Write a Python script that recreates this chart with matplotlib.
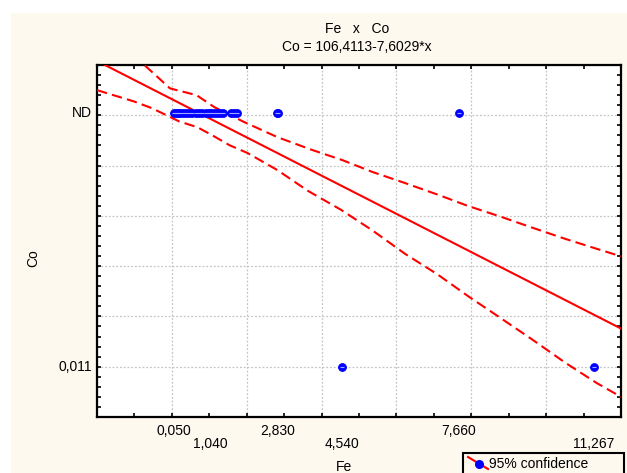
import matplotlib
matplotlib.use("Agg")
import matplotlib.pyplot as plt
from matplotlib.ticker import MultipleLocator, NullFormatter
from matplotlib.patches import Rectangle
from matplotlib.lines import Line2D
import numpy as np

plt.rcParams["font.family"] = ["Liberation Sans", "DejaVu Sans"]
plt.rcParams["font.size"] = 10

# --- data ---------------------------------------------------------------------

# fitted line, as printed in the subtitle
INTERCEPT = 106.4113
SLOPE = -7.6029

# Co is a text column; these are the codes its labels sit at
co_labels = ["ND", "0,011"]
co_codes = [101.0, 0.011]

# Fe values that get a text label under the x axis
fe_labels = ["0,050", "1,040", "2,830", "4,540", "7,660", "11,267"]
fe_values = [0.050, 1.040, 2.830, 4.540, 7.660, 11.267]

# samples with Co = ND
nd_fe = [0.05, 0.10, 0.16, 0.22, 0.30, 0.38, 0.45, 0.55, 0.64, 0.72, 0.80,
         0.90, 0.98, 1.04, 1.12, 1.20, 1.28, 1.36, 1.58, 1.66, 1.74,
         2.80, 2.83, 7.66]
# samples with Co = 0,011
low_fe = [4.54, 11.267]

# 95% confidence band
upper_x = [-0.72, -0.05, 0.66, 1.14, 1.54, 1.89, 2.82, 3.75, 4.55, 5.37,
           6.22, 7.13, 7.90, 8.80, 9.65, 10.50, 11.35, 12.0]
upper_y = [119.8, 110.7, 108.0, 103.2, 100.3, 97.6, 91.3, 86.2, 82.2, 77.4,
           73.1, 68.3, 64.0, 59.6, 55.2, 50.9, 46.9, 43.9]
lower_x = [-2.0, -1.01, -0.53, 0.19, 0.69, 1.12, 1.54, 2.02, 2.82, 3.64,
           4.52, 5.37, 6.22, 7.10, 7.93, 8.72, 9.63, 10.50, 11.33, 12.0]
lower_y = [110.0, 105.5, 102.8, 97.6, 95.2, 91.7, 88.1, 85.0, 78.2, 69.9,
           62.4, 54.1, 45.0, 36.7, 27.9, 20.0, 10.8, 1.7, -6.3, -12.0]

# --- style --------------------------------------------------------------------

CREAM = "#fdf9ef"
RED = "#ff0000"
BLUE = "#0000ff"
W, H = 627, 473


def fx(px):
    return px / W


def fy(py):
    return 1 - py / H


fig = plt.figure(figsize=(W / 100, H / 100), dpi=100)
fig.patch.set_facecolor("white")
fig.patches.append(Rectangle((fx(11), 0), 1 - fx(11), fy(13), transform=fig.transFigure,
                             facecolor=CREAM, edgecolor="none", zorder=-10))

ax = fig.add_axes([fx(97), fy(417), fx(621) - fx(97), fy(65) - fy(417)])
ax.set_facecolor("white")
ax.set_xlim(-2, 12)
ax.set_ylim(-20, 120)

# grid + ticks
ax.xaxis.set_major_locator(MultipleLocator(2))
ax.xaxis.set_minor_locator(MultipleLocator(1))
ax.yaxis.set_major_locator(MultipleLocator(20))
ax.yaxis.set_minor_locator(MultipleLocator(4))
ax.xaxis.set_major_formatter(NullFormatter())
ax.yaxis.set_major_formatter(NullFormatter())
ax.tick_params(which="both", direction="in", length=3, width=1.2,
               top=True, right=True, color="black")
ax.grid(True, which="major", color="#c4c4c4", linestyle=(0, (1.5, 1.5)), linewidth=0.9)
ax.set_axisbelow(True)
for s in ax.spines.values():
    s.set_linewidth(1.6)
    s.set_color("black")

# regression line and confidence band
xs = np.array(ax.get_xlim())
ax.plot(xs, INTERCEPT + SLOPE * xs, color=RED, lw=1.5, zorder=3)
ax.plot(upper_x, upper_y, color=RED, lw=1.5, dashes=(5, 2.5), zorder=3)
ax.plot(lower_x, lower_y, color=RED, lw=1.5, dashes=(5, 2.5), zorder=3)

# points
pts_x = nd_fe + low_fe
pts_y = [co_codes[0]] * len(nd_fe) + [co_codes[1]] * len(low_fe)
ax.plot(pts_x, pts_y, "o", ms=5.5, mfc=BLUE, mec=BLUE, mew=0.8, zorder=4)
ax.plot(pts_x, pts_y, "_", ms=2.5, color="#9fa8ff", mew=0.8, zorder=5)

# text labels for the Fe values, staggered in two rows
for i, (lbl, v) in enumerate(zip(fe_labels, fe_values)):
    off = -14 if i % 2 == 0 else -27
    ax.annotate(lbl, xy=(v, 0), xycoords=("data", "axes fraction"),
                xytext=(0, off), textcoords="offset pixels",
                ha="center", va="center", fontsize=10)

# text labels for the Co codes
for lbl, v in zip(co_labels, co_codes):
    ax.annotate(lbl, xy=(0, v), xycoords=("axes fraction", "data"),
                xytext=(-5, 0), textcoords="offset pixels",
                ha="right", va="center", fontsize=10)

# titles and axis names
fig.text(fx(357), fy(29), "Fe   x   Co", ha="center", va="center", fontsize=10)
fig.text(fx(357), fy(47), "Co = 106,4113-7,6029*x", ha="center", va="center", fontsize=10)
fig.text(fx(344), fy(467), "Fe", ha="center", va="center", fontsize=10)
fig.text(fx(33), fy(258), "Co", ha="center", va="center", rotation=90, fontsize=10)

# legend box at the lower right
fig.patches.append(Rectangle((fx(463), -0.02), fx(624) - fx(463), fy(453) + 0.02,
                             transform=fig.transFigure, facecolor=CREAM,
                             edgecolor="black", lw=1.5, zorder=5))
fig.lines.append(Line2D([fx(468), fx(488)], [fy(457), fy(469)], transform=fig.transFigure,
                        color=RED, lw=1.5, zorder=6))
fig.lines.append(Line2D([fx(479)], [fy(463.5)], transform=fig.transFigure, marker="o",
                        ms=5.5, mfc=BLUE, mec=BLUE, zorder=7))
fig.text(fx(489), fy(464), "95% confidence", ha="left", va="center", fontsize=10, zorder=8)

fig.savefig("out.png", dpi=100)
